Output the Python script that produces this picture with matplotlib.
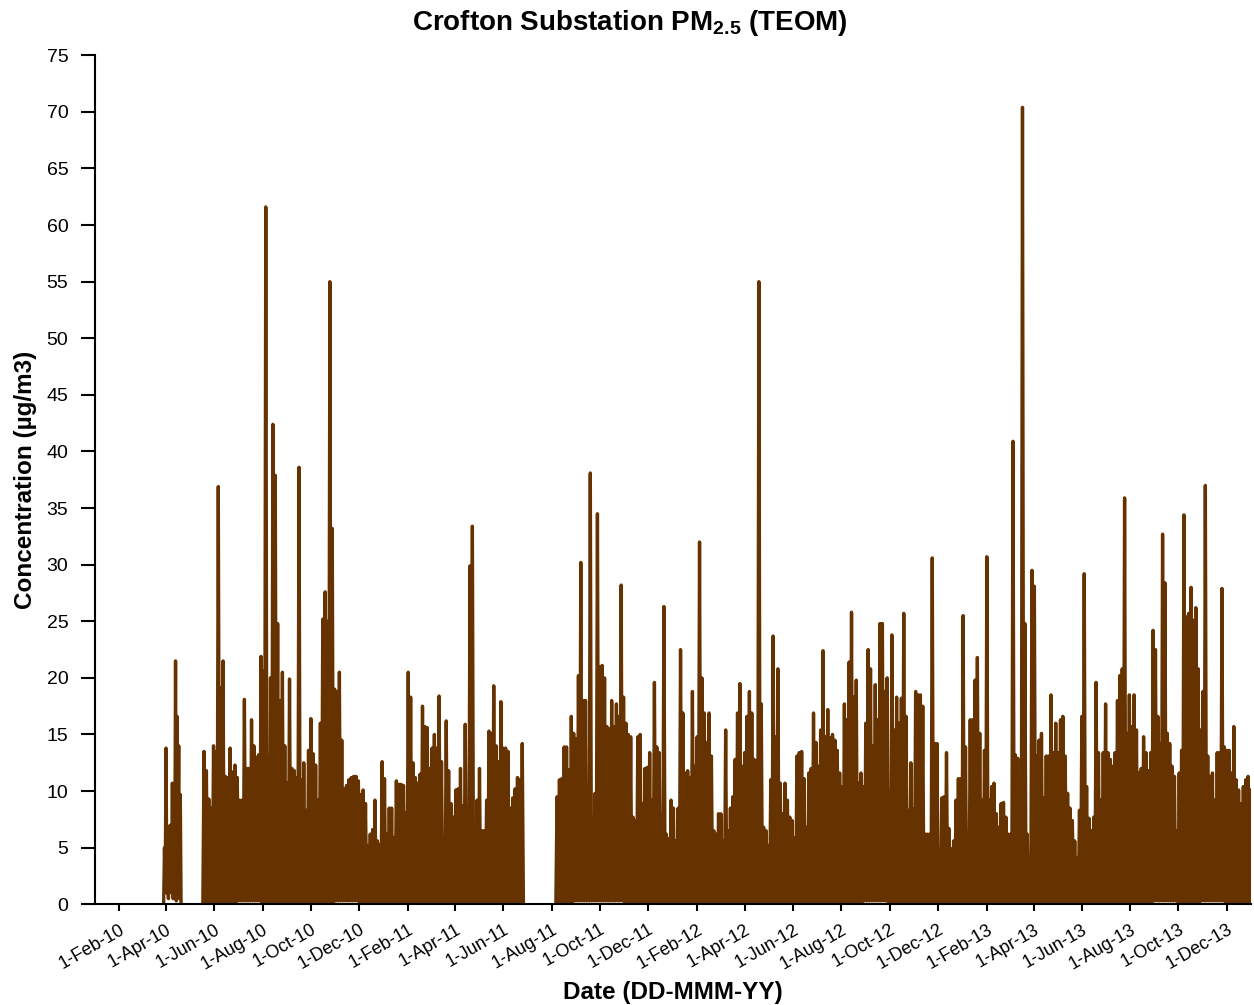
import pandas as pd
import matplotlib
matplotlib.use("Agg")
import matplotlib.pyplot as plt

plt.rcParams["font.family"] = ["Liberation Sans", "DejaVu Sans"]
plt.rcParams["mathtext.fontset"] = "custom"
plt.rcParams["mathtext.rm"] = "Liberation Sans"
plt.rcParams["mathtext.bf"] = "Liberation Sans:bold"

BROWN = "#663300"

# first short run of readings, one per day from 29-Mar-10
seg1_start = "2010-03-29"
seg1_vals = [0.2, 5.0, 2.0, 13.8, 1.0, 6.5, 0.5, 6.9, 3.0, 7.0, 1.0, 10.7,
             0.5, 8.0, 2.0, 21.5, 0.3, 16.6, 5.0, 14.0, 0.5, 9.7, 0.0]

# 3-day peak readings, 19-May-10 to 24-Jun-11
seg2_start = "2010-05-19"
seg2_peaks = [
    13.5, 11.8, 9.3, 8.5, 14.0, 13.5, 36.9, 19.1, 21.5, 11.3,
    11.2, 13.8, 11.7, 12.3, 11.2, 9.2, 9.2, 18.1, 12.0, 12.0,
    16.3, 14.0, 13.0, 13.2, 21.9, 20.6, 61.6, 13.0, 20.0, 42.4,
    37.9, 24.8, 18.0, 20.5, 14.0, 10.7, 19.9, 12.0, 11.8, 11.2,
    38.6, 11.0, 12.5, 8.3, 13.6, 16.4, 13.3, 12.3, 9.2, 16.0,
    25.2, 27.6, 25.0, 55.0, 33.2, 19.0, 18.8, 20.5, 14.5, 10.2,
    10.5, 11.0, 11.2, 11.3, 11.3, 10.9, 9.7, 10.1, 8.9, 5.2,
    6.2, 6.6, 9.2, 5.6, 5.3, 12.6, 11.1, 6.2, 8.5, 8.5,
    5.9, 10.9, 10.6, 10.6, 10.5, 8.1, 20.5, 18.3, 12.5, 11.2,
    10.7, 11.5, 17.5, 15.7, 15.6, 12.0, 13.8, 15.0, 13.8, 18.4,
    12.6, 5.8, 16.2, 11.8, 8.9, 7.7, 10.1, 10.2, 12.0, 8.7,
    15.9, 8.4, 29.9, 33.4, 6.2, 9.2, 12.0, 6.5, 6.5, 9.2,
    15.3, 15.1, 19.3, 14.0, 12.6, 17.9, 13.8, 13.8, 13.5, 8.5,
    9.4, 10.2, 11.2, 11.0, 14.2,
]

# 3-day peak readings, 8-Aug-11 to 31-Dec-13
seg3_start = "2011-08-08"
seg3_peaks = [
    9.5, 11.0, 11.1, 13.9, 13.9, 11.9, 16.6, 15.1, 14.6, 20.2,
    30.2, 18.0, 18.0, 10.4, 38.1, 7.7, 9.8, 34.5, 21.0, 21.1,
    20.0, 15.7, 15.5, 18.0, 15.7, 17.7, 16.6, 28.2, 18.3, 16.0,
    15.0, 14.8, 7.7, 7.4, 14.8, 15.0, 8.9, 12.0, 12.1, 13.4,
    9.2, 19.6, 13.9, 13.4, 8.0, 26.3, 6.2, 5.8, 9.2, 8.5,
    5.6, 8.5, 22.5, 16.9, 11.6, 11.8, 11.2, 18.8, 12.2, 14.8,
    32.0, 20.0, 16.9, 14.3, 16.9, 13.1, 6.5, 6.2, 8.0, 8.0,
    5.6, 15.4, 6.5, 8.5, 9.5, 12.8, 16.9, 19.5, 12.2, 13.4,
    16.6, 18.8, 16.9, 12.8, 12.7, 55.0, 17.7, 6.8, 6.5, 5.2,
    11.0, 23.7, 14.8, 20.8, 10.7, 8.0, 10.7, 9.2, 7.7, 7.4,
    5.9, 13.1, 13.4, 13.5, 11.1, 6.8, 11.6, 12.0, 16.9, 14.3,
    12.2, 15.4, 22.4, 14.8, 17.2, 14.7, 15.0, 14.5, 13.6, 11.6,
    10.4, 17.7, 16.3, 21.4, 25.8, 18.3, 19.8, 10.7, 11.6, 10.4,
    16.0, 22.5, 20.8, 14.0, 19.4, 16.3, 24.8, 24.8, 18.8, 20.0,
    10.0, 23.8, 15.4, 18.3, 16.0, 18.2, 25.7, 16.6, 8.3, 12.5,
    8.4, 18.8, 18.5, 18.5, 17.5, 6.2, 6.2, 6.2, 30.6, 14.2,
    14.2, 4.8, 9.4, 9.5, 13.4, 6.7, 4.9, 5.6, 9.2, 11.1,
    11.1, 25.5, 13.9, 5.9, 16.3, 16.3, 19.8, 21.8, 15.1, 9.2,
    13.6, 30.7, 9.2, 10.4, 10.7, 8.0, 6.8, 8.9, 9.0, 7.7,
    6.2, 6.2, 40.9, 13.2, 12.9, 7.6, 70.4, 24.8, 6.2, 0.5,
    29.5, 28.1, 13.1, 14.5, 15.1, 9.4, 13.1, 13.1, 18.5, 13.4,
    16.0, 13.4, 16.3, 16.6, 13.1, 9.8, 8.5, 7.4, 5.6, 4.1,
    8.3, 16.6, 29.2, 10.4, 7.6, 6.5, 7.7, 19.6, 13.4, 9.2,
    13.4, 17.7, 13.4, 12.8, 12.2, 13.4, 18.0, 20.2, 20.8, 35.9,
    15.1, 18.5, 15.7, 18.5, 15.4, 11.6, 12.0, 14.8, 13.4, 11.8,
    13.4, 24.2, 22.5, 16.6, 14.2, 32.7, 28.4, 15.1, 14.2, 12.2,
    11.3, 6.5, 11.6, 13.6, 34.4, 25.4, 25.7, 28.0, 25.1, 26.2,
    20.8, 15.4, 18.8, 37.0, 13.1, 11.3, 11.6, 9.2, 13.4, 13.4,
    27.9, 13.9, 13.6, 13.6, 11.6, 15.7, 11.0, 10.1, 8.9, 10.4,
    11.0, 11.3, 10.1,
]

# monthly low readings, Mar-10 .. Dec-13
monthly_low = [
    0.1, 0.2, 0.1, 0.2, 0.3, 0.0, 0.1, 0.2, 0.3, 0.2,
    0.1, 0.2, 0.1, 0.1, 0.2, 0.1, 0.0, 0.2, 0.3, 0.3,
    0.2, 0.1, 0.1, 0.2, 0.0, 0.1, 0.1, 0.0, 0.1, 0.2,
    0.3, 0.2, 0.1, 0.0, 0.1, 0.2, 0.1, 0.0, 0.1, 0.2,
    0.1, 0.2, 0.3, 0.2, 0.3, 0.2,
]


def month_low(t):
    return monthly_low[(t.year - 2010) * 12 + t.month - 3]


def zigzag(start, peaks):
    t0 = pd.Timestamp(start)
    half = pd.Timedelta(hours=36)
    times, vals = [], []
    for i, p in enumerate(peaks):
        tp = t0 + pd.Timedelta(days=3 * i)
        times += [tp - half, tp]
        vals += [month_low(tp), p]
    last = times[-1]
    times.append(last + half)
    vals.append(month_low(last))
    return times, vals


fig = plt.figure(figsize=(12.54, 10.05), dpi=100)
ax = fig.add_axes([0.0756, 0.1002, 0.9222, 0.8448])

seg1_dates = pd.date_range(seg1_start, periods=len(seg1_vals), freq="D")
ax.plot(seg1_dates, seg1_vals, color=BROWN, lw=2.4, solid_joinstyle="round")
for start, peaks in [(seg2_start, seg2_peaks), (seg3_start, seg3_peaks)]:
    t, v = zigzag(start, peaks)
    ax.plot(t, v, color=BROWN, lw=2.4, solid_joinstyle="round")

ax.set_xlim(pd.Timestamp("2010-01-01"), pd.Timestamp("2014-01-01"))
ax.set_ylim(0, 75)
ax.set_yticks(range(0, 80, 5))

ticks = pd.date_range("2010-02-01", "2013-12-01", freq="2MS")
ax.set_xticks(ticks)
ax.set_xticklabels([f"1-{d:%b-%y}" for d in ticks], rotation=30,
                   ha="right", rotation_mode="anchor")

for s in ["top", "right"]:
    ax.spines[s].set_visible(False)
for s in ["left", "bottom"]:
    ax.spines[s].set_linewidth(1.5)
ax.tick_params(axis="y", length=10, width=1.5, pad=9, labelsize=14)
ax.tick_params(axis="x", length=5, width=1.5, pad=7, labelsize=13)

ax.set_title(r"Crofton Substation PM$_{\mathbf{2.5}}$ (TEOM)", x=0.4623,
             fontsize=20, fontweight="bold", pad=18)
ax.set_xlabel("Date (DD-MMM-YY)", fontsize=17.5, fontweight="bold", labelpad=6)
ax.set_ylabel("Concentration (µg/m3)", fontsize=17.5, fontweight="bold", labelpad=7)

fig.savefig("out.png", dpi=100)
